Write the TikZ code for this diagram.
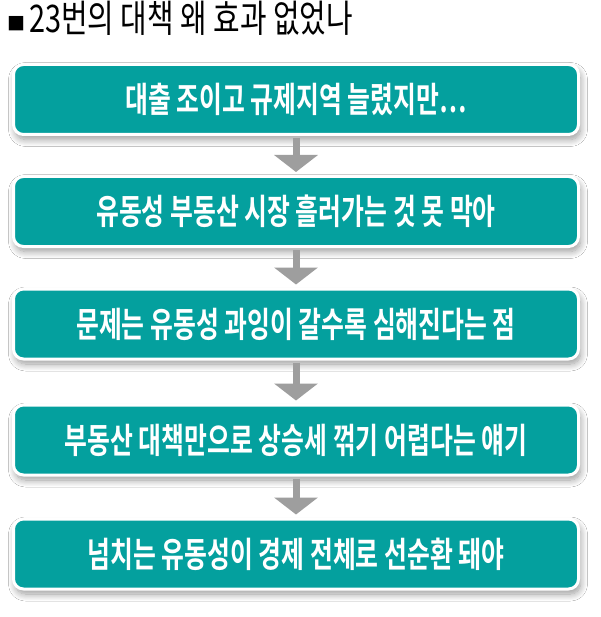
\documentclass[tikz,border=0pt]{standalone}
\usepackage{fontspec}
\usetikzlibrary{arrows.meta,shadows.blur}
\newfontfamily\krbold[FakeStretch=0.71]{Noto Sans CJK KR Bold}
\newfontfamily\krreg[FakeStretch=0.76]{Noto Sans CJK KR}
\newfontfamily\krplain{Noto Sans CJK KR}
\definecolor{boxteal}{RGB}{4,160,158}
\definecolor{arrgray}{RGB}{158,158,158}
\tikzset{
  x=1pt,y=-1pt,
  flowbox/.style={rectangle, rounded corners=10pt, fill=boxteal, draw=white, line width=3pt,
    minimum width=565pt, minimum height=70pt, inner sep=0pt,
    text=white, font=\krbold\fontsize{35pt}{38pt}\selectfont,
    blur shadow={shadow xshift=2pt, shadow yshift=-5pt, shadow blur radius=7pt, shadow blur steps=12, shadow opacity=40}},
  conn/.style={draw=arrgray, line width=7pt, shorten <=2pt, shorten >=3pt,
    -{Triangle[width=43pt,length=17pt]}},
  titletext/.style={font=\krreg\fontsize{38pt}{40pt}\selectfont, inner sep=0pt, text=black},
  sqmark/.style={font=\krplain\fontsize{18pt}{18pt}\selectfont, inner sep=0pt, text=black}
}
\begin{document}
\begin{tikzpicture}
\useasboundingbox[fill=white] (0,0) rectangle (600,617);
\node[sqmark, anchor=center] (sq) at (17,24) {■};
\node[titletext, anchor=base west] (title) at (29,33) {23번의 대책 왜 효과 없었나};
\node[flowbox] (b1) at (296,99.5) {\raisebox{-1.5pt}{대출 조이고 규제지역 늘렸지만…}};
\node[flowbox] (b2) at (296,211.5) {\raisebox{-1.5pt}{유동성 부동산 시장 흘러가는 것 못 막아}};
\node[flowbox] (b3) at (296,324) {\raisebox{-1.5pt}{문제는 유동성 과잉이 갈수록 심해진다는 점}};
\node[flowbox] (b4) at (296,440) {\raisebox{-1.5pt}{부동산 대책만으로 상승세 꺾기 어렵다는 얘기}};
\node[flowbox] (b5) at (296,554) {\raisebox{-1.5pt}{넘치는 유동성이 경제 전체로 선순환 돼야}};
\draw[conn] (b1.south) -- (b2.north);
\draw[conn] (b2.south) -- (b3.north);
\draw[conn] (b3.south) -- (b4.north);
\draw[conn] (b4.south) -- (b5.north);
\end{tikzpicture}
\end{document}
